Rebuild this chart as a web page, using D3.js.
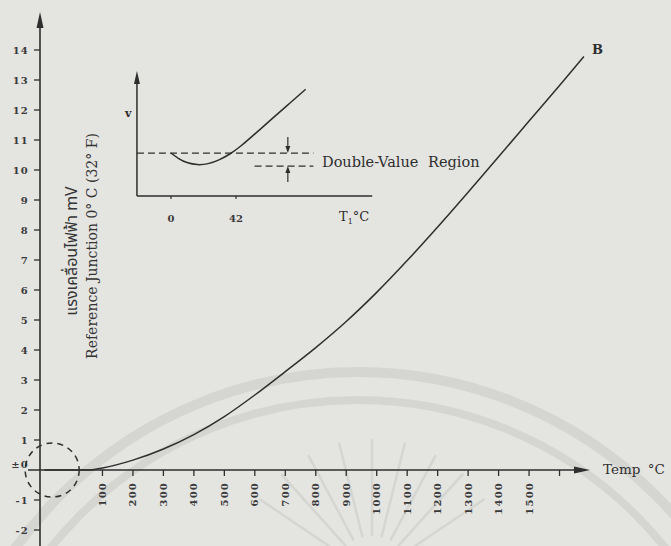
<!DOCTYPE html>
<html><head><meta charset="utf-8">
<script src="https://cdn.jsdelivr.net/npm/d3@7"></script>
<style>html,body{margin:0;padding:0;background:#e4e4e1;} svg{display:block}</style>
</head><body><svg id="c" width="671" height="546"></svg>
<script>
// ---- main curve data (type B thermocouple) ----
const temps = [-90, 0, 50, 100, 200, 300, 400, 500, 600, 700, 800, 900, 1000, 1100, 1200, 1300, 1400, 1500, 1600, 1680];
const emf   = [0, 0, 0, 0.07, 0.33, 0.70, 1.18, 1.78, 2.50, 3.28, 4.08, 4.95, 5.92, 6.98, 8.10, 9.26, 10.44, 11.63, 12.82, 13.78];
const xTickVals = [100, 200, 300, 400, 500, 600, 700, 800, 900, 1000, 1100, 1200, 1300, 1400, 1500, 1600];
const xTickLabels = ["100","200","300","400","500","600","700","800","900","1000","1100","1200","1300","1400","1500",""];
const yTickVals = [-2,-1,0,1,2,3,4,5,6,7,8,9,10,11,12,13,14];
const yTickLabels = ["-2","-1","±0","1","2","3","4","5","6","7","8","9","10","11","12","13","14"];
// ---- inset data ----
const insetT = [0, 5, 10, 17, 24, 31, 38, 45, 55, 65, 75, 87];
const insetV = [0, -0.45, -0.75, -0.93, -0.85, -0.55, -0.1, 0.5, 1.55, 2.6, 3.65, 4.9];
const insetTicks = [0, 42];

const svg = d3.select('#c');
const ink = '#2e2e2e';
const serif = "'DejaVu Serif', 'Liberation Serif', serif";

// ---- faint watermark (background decoration) ----
const wm = svg.append('g').attr('fill','none').attr('stroke','#d5d5d2').attr('stroke-linecap','round');
wm.append('circle').attr('cx',358).attr('cy',793).attr('r',421).attr('stroke-width',10);
wm.append('circle').attr('cx',358).attr('cy',793).attr('r',393).attr('stroke-width',8);
d3.range(-56, 57, 14).forEach(a => {
  const r = a * Math.PI / 180;
  wm.append('line')
    .attr('x1', 372 + 40*Math.sin(r)).attr('y1', 575 - 40*Math.cos(r))
    .attr('x2', 372 + 135*Math.sin(r)).attr('y2', 575 - 135*Math.cos(r))
    .attr('stroke-width', 2.5);
});

// ---- scales ----
const x = d3.scaleLinear().domain([-105, 1700]).range([40, 590]);
const y = d3.scaleLinear().domain([-2.5, 15.2]).range([545, 14]);
const y0 = y(0), ax = x(-105);

const g = svg.append('g');
// y axis
g.append('line').attr('x1',ax).attr('x2',ax).attr('y1',546).attr('y2',24).attr('stroke',ink).attr('stroke-width',1.6);
g.append('path').attr('d',`M${ax},${y(15.2)-2}L${ax-3.5},${y(15.2)+14}L${ax+3.5},${y(15.2)+14}Z`).attr('fill',ink);
// x axis
g.append('line').attr('x1',28).attr('x2',x(1700)-14).attr('y1',y0).attr('y2',y0).attr('stroke',ink).attr('stroke-width',1.5);
g.append('path').attr('d',`M${x(1700)},${y0}L${x(1700)-16},${y0-3.5}L${x(1700)-16},${y0+3.5}Z`).attr('fill',ink);

// y ticks
yTickVals.forEach((v,i) => {
  if (v !== 0) g.append('line').attr('x1',ax-6).attr('x2',ax).attr('y1',y(v)).attr('y2',y(v)).attr('stroke',ink).attr('stroke-width',1.3);
  g.append('text').attr('x',29).attr('y',y(v) + (v===0 ? -6 : 0)).attr('dy','0.35em')
    .attr('text-anchor','end').attr('font-family',serif).attr('font-weight','bold')
    .attr('font-size',10).attr('letter-spacing',1.2).attr('fill','#3a3a3a').text(yTickLabels[i]);
});
// x ticks
xTickVals.forEach((t,i) => {
  g.append('line').attr('x1',x(t)).attr('x2',x(t)).attr('y1',y0).attr('y2',y0+6).attr('stroke',ink).attr('stroke-width',1.3);
  g.append('text').attr('transform',`translate(${x(t)},482) rotate(-90)`).attr('dy','0.35em')
    .attr('text-anchor','end').attr('font-family',serif).attr('font-weight','bold')
    .attr('font-size',10).attr('letter-spacing',1.2).attr('fill','#3a3a3a').text(xTickLabels[i]);
});

// main curve
const line = d3.line().x((d,i)=>x(temps[i])).y((d,i)=>y(emf[i])).curve(d3.curveMonotoneX);
g.append('path').attr('d',line(temps)).attr('fill','none').attr('stroke',ink).attr('stroke-width',1.5);

// dashed circle around origin
g.append('circle').attr('cx',x(-65)).attr('cy',y0).attr('r',27).attr('fill','none')
  .attr('stroke',ink).attr('stroke-width',1.5).attr('stroke-dasharray','6,5');

// labels
g.append('text').attr('x',592).attr('y',54).attr('font-family',serif).attr('font-weight','bold')
  .attr('font-size',13).attr('fill',ink).text('B');
g.append('text').attr('x',603).attr('y',474).attr('font-family',serif)
  .attr('font-size',13.5).attr('word-spacing',3).attr('fill',ink).text('Temp °C');
g.append('text').attr('transform','translate(97,246) rotate(-90)').attr('text-anchor','middle')
  .attr('font-family',serif).attr('font-size',14).attr('fill','#333').text('Reference Junction 0° C (32° F)');
g.append('text').attr('transform','translate(77,251) rotate(-90)').attr('text-anchor','middle')
  .attr('font-family',"'Noto Sans Thai', Loma, Garuda, 'DejaVu Sans', sans-serif").attr('font-size',16).attr('fill','#333')
  .text('แรงเคลื่อนไฟฟ้า mV');

// ---- inset ----
const ix = d3.scaleLinear().domain([0, 42]).range([171, 236]);
const iy = d3.scaleLinear().domain([-3.3, 6.3]).range([196, 71]);
const ig = svg.append('g');
const ix0 = ix(-22);
ig.append('line').attr('x1',ix0).attr('x2',ix0).attr('y1',iy(-3.3)).attr('y2',iy(6.3)+12).attr('stroke',ink).attr('stroke-width',1.5);
ig.append('path').attr('d',`M${ix0},${iy(6.3)}L${ix0-3},${iy(6.3)+13}L${ix0+3},${iy(6.3)+13}Z`).attr('fill',ink);
ig.append('line').attr('x1',ix0).attr('x2',ix(130)).attr('y1',iy(-3.3)).attr('y2',iy(-3.3)).attr('stroke',ink).attr('stroke-width',1.5);
insetTicks.forEach(t => {
  ig.append('line').attr('x1',ix(t)).attr('x2',ix(t)).attr('y1',iy(-3.3)).attr('y2',iy(-3.3)+3).attr('stroke',ink).attr('stroke-width',1.2);
  ig.append('text').attr('x',ix(t)).attr('y',222).attr('text-anchor','middle').attr('font-family',serif)
    .attr('font-weight','bold').attr('font-size',10).attr('fill','#3a3a3a').text(String(t));
});
const tl = ig.append('text').attr('x',339).attr('y',221).attr('font-family',serif).attr('font-size',13).attr('fill',ink);
tl.append('tspan').text('T');
tl.append('tspan').attr('font-size',8).attr('dy',3).text('1');
tl.append('tspan').attr('dy',-3).text('°C');
ig.append('text').attr('x',125).attr('y',117).attr('font-family',serif).attr('font-weight','bold')
  .attr('font-size',11).attr('fill',ink).text('v');
// dashed reference lines
ig.append('line').attr('x1',ix0).attr('x2',ix(92)).attr('y1',iy(0)).attr('y2',iy(0)).attr('stroke',ink).attr('stroke-width',1.3).attr('stroke-dasharray','7,4');
ig.append('line').attr('x1',ix(54)).attr('x2',ix(92)).attr('y1',iy(-1)).attr('y2',iy(-1)).attr('stroke',ink).attr('stroke-width',1.3).attr('stroke-dasharray','7,4');
// dimension arrows
const axx = ix(75.5);
ig.append('line').attr('x1',axx).attr('x2',axx).attr('y1',iy(0)-16).attr('y2',iy(0)-5).attr('stroke',ink).attr('stroke-width',1.2);
ig.append('path').attr('d',`M${axx},${iy(0)}L${axx-2.5},${iy(0)-7}L${axx+2.5},${iy(0)-7}Z`).attr('fill',ink);
ig.append('line').attr('x1',axx).attr('x2',axx).attr('y1',iy(-1)+16).attr('y2',iy(-1)+5).attr('stroke',ink).attr('stroke-width',1.2);
ig.append('path').attr('d',`M${axx},${iy(-1)}L${axx-2.5},${iy(-1)+7}L${axx+2.5},${iy(-1)+7}Z`).attr('fill',ink);
ig.append('text').attr('x',322).attr('y',iy(-1)+1).attr('font-family',serif).attr('font-size',14.5)
  .attr('word-spacing',5).attr('fill',ink).text('Double-Value Region');
// inset curve
const iline = d3.line().x((d,i)=>ix(insetT[i])).y((d,i)=>iy(insetV[i])).curve(d3.curveBasis);
ig.append('path').attr('d',iline(insetT)).attr('fill','none').attr('stroke',ink).attr('stroke-width',1.5);
</script></body></html>
